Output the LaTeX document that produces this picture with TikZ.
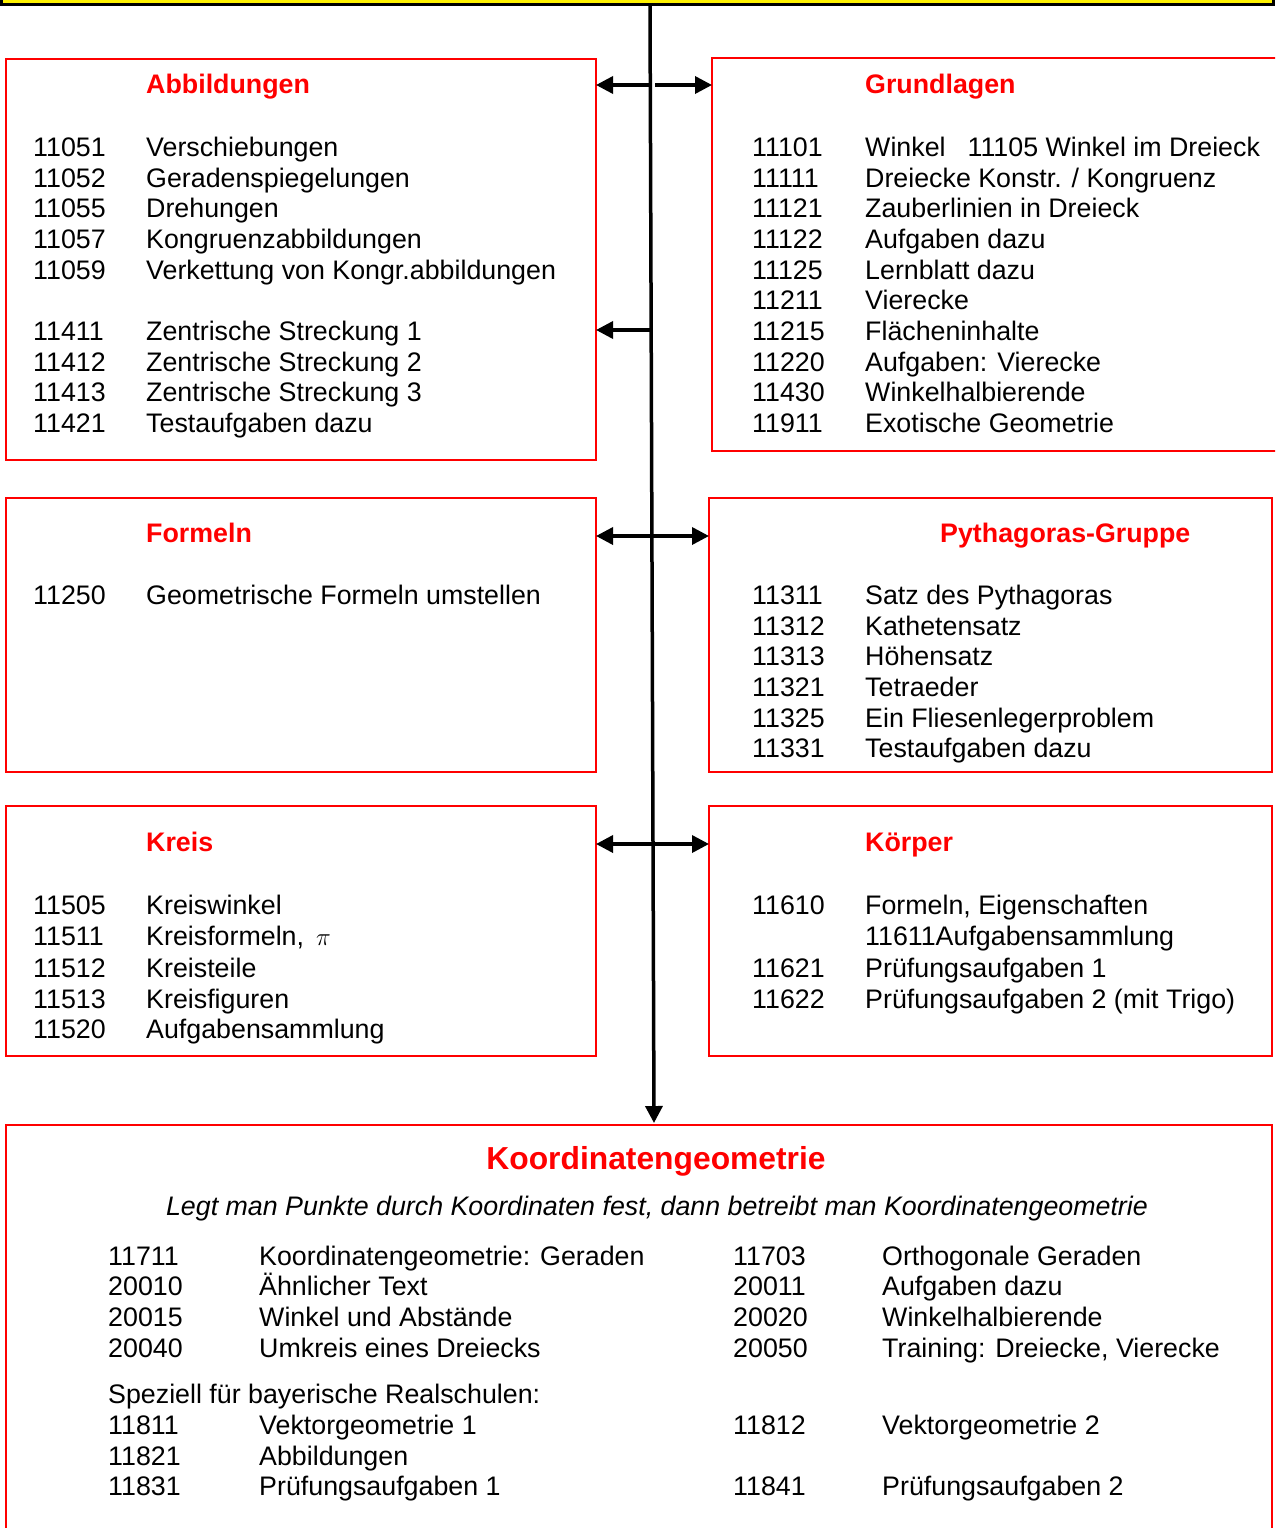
\documentclass[tikz,border=0pt]{standalone}
\usepackage{fontspec}
\setmainfont{Liberation Sans}
\usepackage{xcolor}
\usepackage{amsmath}
\usetikzlibrary{calc}
\usetikzlibrary{arrows.meta}

\tikzset{
  redbox/.style={draw=red, line width=2.5pt, inner sep=0pt, outer sep=0pt, anchor=north west},
  arr/.style={line width=3.5pt, -{Triangle[length=17pt,width=17pt]}},
  head/.style={anchor=base west, inner sep=0pt, text=red, font=\fontsize{26.8}{30}\selectfont\bfseries},
  num/.style={anchor=base west, inner sep=0pt, font=\fontsize{26.8}{30}\selectfont},
  txt/.style={anchor=base west, inner sep=0pt, font=\fontsize{26.8}{30}\selectfont}
}

\begin{document}
\begin{tikzpicture}[x=1pt,y=-1pt]
                        \clip (0,0) rectangle (1275,1528);
                        \fill[white] (0,0) rectangle (1275,1528);

                        % Yellow band on top
                        \draw [fill=yellow, line width=3pt] (1,-10) rectangle (1273,5);%

                        % Boxes
                        \node [redbox, minimum width=590pt, minimum height=401pt] (abb) at (6,59) {};%
                        \node [redbox, minimum width=600pt, minimum height=393pt] (grd) at (712,58) {};%
                        \node [redbox, minimum width=590pt, minimum height=274pt] (frm) at (6,498) {};%
                        \node [redbox, minimum width=563pt, minimum height=274pt] (pyt) at (709,498) {};%
                        \node [redbox, minimum width=590pt, minimum height=250pt] (krs) at (6,806) {};%
                        \node [redbox, minimum width=563pt, minimum height=250pt] (kpr) at (709,806) {};%
                        \node [redbox, minimum width=1266pt, minimum height=420pt] (kog) at (6,1125) {};%

                        % Drawing the spine
                        \coordinate (sTop) at (650,6);%
                        \coordinate (sBot) at (654,1123);%
                        \draw [arr] (sTop) -- (sBot);%

                        % Arrows from the spine
                        \coordinate (s1) at (650.3,85);%
                        \coordinate (s2) at (651.2,330);%
                        \coordinate (s3) at (651.9,536);%
                        \coordinate (s4) at (653,844);%
                        \draw [arr] (s1) -- (s1 -| abb.east);%
                        \draw [arr] ($(s1)+(5,0)$) -- (s1 -| grd.west);%
                        \draw [arr] (s2) -- (s2 -| abb.east);%
                        \draw [arr] (s3) -- (s3 -| frm.east);%
                        \draw [arr] (s3) -- (s3 -| pyt.west);%
                        \draw [arr] (s4) -- (s4 -| krs.east);%
                        \draw [arr] (s4) -- (s4 -| kpr.west);%

                        % Abbildungen
                        \node [head] (abbH) at (146,93) {Abbildungen};%
                        \node [num] (abb1n) at (33,156.5) {11051};  \node [txt] (abb1t) at (146,156.5) {Verschiebungen};%
                        \node [num] (abb2n) at (33,187)   {11052};  \node [txt] (abb2t) at (146,187)   {Geradenspiegelungen};%
                        \node [num] (abb3n) at (33,217.5) {11055};  \node [txt] (abb3t) at (146,217.5) {Drehungen};%
                        \node [num] (abb4n) at (33,248)   {11057};  \node [txt] (abb4t) at (146,248)   {Kongruenzabbildungen};%
                        \node [num] (abb5n) at (33,279)   {11059};  \node [txt] (abb5t) at (146,279)   {Verkettung von Kongr.abbildungen};%
                        \node [num] (abb6n) at (33,340)   {11411};  \node [txt] (abb6t) at (146,340)   {Zentrische Streckung 1};%
                        \node [num] (abb7n) at (33,371)   {11412};  \node [txt] (abb7t) at (146,371)   {Zentrische Streckung 2};%
                        \node [num] (abb8n) at (33,401.5) {11413};  \node [txt] (abb8t) at (146,401.5) {Zentrische Streckung 3};%
                        \node [num] (abb9n) at (33,432)   {11421};  \node [txt] (abb9t) at (146,432)   {Testaufgaben dazu};%

                        % Grundlagen
                        \node [head] (grdH) at (865,93) {Grundlagen};%
                        \node [num] (grd1n) at (752,156.5) {11101};  \node [txt] (grd1t) at (865,156.5) {Winkel\hspace{22pt}11105 Winkel im Dreieck};%
                        \node [num] (grd2n) at (752,187)   {11111};  \node [txt] (grd2t) at (865,187)   {Dreiecke Konstr. / Kongruenz};%
                        \node [num] (grd3n) at (752,217.5) {11121};  \node [txt] (grd3t) at (865,217.5) {Zauberlinien in Dreieck};%
                        \node [num] (grd4n) at (752,248)   {11122};  \node [txt] (grd4t) at (865,248)   {Aufgaben dazu};%
                        \node [num] (grd5n) at (752,279)   {11125};  \node [txt] (grd5t) at (865,279)   {Lernblatt dazu};%
                        \node [num] (grd6n) at (752,309.5) {11211};  \node [txt] (grd6t) at (865,309.5) {Vierecke};%
                        \node [num] (grd7n) at (752,340)   {11215};  \node [txt] (grd7t) at (865,340)   {Flächeninhalte};%
                        \node [num] (grd8n) at (752,371)   {11220};  \node [txt] (grd8t) at (865,371)   {Aufgaben: Vierecke};%
                        \node [num] (grd9n) at (752,401.5) {11430};  \node [txt] (grd9t) at (865,401.5) {Winkelhalbierende};%
                        \node [num] (grd10n) at (752,432)  {11911};  \node [txt] (grd10t) at (865,432)  {Exotische Geometrie};%

                        % Formeln
                        \node [head] (frmH) at (146,542) {Formeln};%
                        \node [num] (frm1n) at (33,604.5) {11250};  \node [txt] (frm1t) at (146,604.5) {Geometrische Formeln umstellen};%

                        % Pythagoras-Gruppe
                        \node [head] (pytH) at (940,542) {Pythagoras-Gruppe};%
                        \node [num] (pyt1n) at (752,604.5) {11311};  \node [txt] (pyt1t) at (865,604.5) {Satz des Pythagoras};%
                        \node [num] (pyt2n) at (752,635)   {11312};  \node [txt] (pyt2t) at (865,635)   {Kathetensatz};%
                        \node [num] (pyt3n) at (752,665.5) {11313};  \node [txt] (pyt3t) at (865,665.5) {Höhensatz};%
                        \node [num] (pyt4n) at (752,696)   {11321};  \node [txt] (pyt4t) at (865,696)   {Tetraeder};%
                        \node [num] (pyt5n) at (752,727)   {11325};  \node [txt] (pyt5t) at (865,727)   {Ein Fliesenlegerproblem};%
                        \node [num] (pyt6n) at (752,757.5) {11331};  \node [txt] (pyt6t) at (865,757.5) {Testaufgaben dazu};%

                        % Kreis
                        \node [head] (krsH) at (146,851) {Kreis};%
                        \node [num] (krs1n) at (33,914.5) {11505};  \node [txt] (krs1t) at (146,914.5) {Kreiswinkel};%
                        \node [num] (krs2n) at (33,945.5) {11511};  \node [txt] (krs2t) at (146,945.5) {Kreisformeln,\hspace{12pt}{\fontsize{27}{30}\selectfont$\pi$}};%
                        \node [num] (krs3n) at (33,977)   {11512};  \node [txt] (krs3t) at (146,977)   {Kreisteile};%
                        \node [num] (krs4n) at (33,1008)  {11513};  \node [txt] (krs4t) at (146,1008)  {Kreisfiguren};%
                        \node [num] (krs5n) at (33,1038.5) {11520}; \node [txt] (krs5t) at (146,1038.5) {Aufgabensammlung};%

                        % Koerper
                        \node [head] (kprH) at (865,851) {Körper};%
                        \node [num] (kpr1n) at (752,914.5) {11610};  \node [txt] (kpr1t) at (865,914.5) {Formeln, Eigenschaften};%
                        \node [txt] (kpr2t) at (865,945.5) {11611Aufgabensammlung};%
                        \node [num] (kpr3n) at (752,977)   {11621};  \node [txt] (kpr3t) at (865,977)   {Prüfungsaufgaben 1};%
                        \node [num] (kpr4n) at (752,1008)  {11622};  \node [txt] (kpr4t) at (865,1008)  {Prüfungsaufgaben 2 (mit Trigo)};%

                        % Koordinatengeometrie
                        \node [anchor=base, inner sep=0pt, text=red, font=\fontsize{31.8}{36}\selectfont\bfseries] (kogH) at (656,1169.5) {Koordinatengeometrie};%
                        \node [anchor=base, inner sep=0pt, font=\fontsize{26.8}{30}\selectfont\itshape] (kogI) at (657,1215.5) {Legt man Punkte durch Koordinaten fest, dann betreibt man Koordinatengeometrie};%
                        \node [num] (kog1n) at (108,1265.5) {11711};  \node [txt] (kog1t) at (259,1265.5) {Koordinatengeometrie: Geraden};%
                        \node [num] (kog2n) at (108,1295.5) {20010};  \node [txt] (kog2t) at (259,1295.5) {Ähnlicher Text};%
                        \node [num] (kog3n) at (108,1326.5) {20015};  \node [txt] (kog3t) at (259,1326.5) {Winkel und Abstände};%
                        \node [num] (kog4n) at (108,1357.5) {20040};  \node [txt] (kog4t) at (259,1357.5) {Umkreis eines Dreiecks};%
                        \node [num] (kog5n) at (733,1265.5) {11703};  \node [txt] (kog5t) at (882,1265.5) {Orthogonale Geraden};%
                        \node [num] (kog6n) at (733,1295.5) {20011};  \node [txt] (kog6t) at (882,1295.5) {Aufgaben dazu};%
                        \node [num] (kog7n) at (733,1326.5) {20020};  \node [txt] (kog7t) at (882,1326.5) {Winkelhalbierende};%
                        \node [num] (kog8n) at (733,1357.5) {20050};  \node [txt] (kog8t) at (882,1357.5) {Training: Dreiecke, Vierecke};%
                        \node [txt] (kogS) at (108,1403.5) {Speziell für bayerische Realschulen:};%
                        \node [num] (kog9n) at (108,1434.5)  {11811};  \node [txt] (kog9t) at (259,1434.5)  {Vektorgeometrie 1};%
                        \node [num] (kog10n) at (108,1465.5) {11821};  \node [txt] (kog10t) at (259,1465.5) {Abbildungen};%
                        \node [num] (kog11n) at (108,1495.5) {11831};  \node [txt] (kog11t) at (259,1495.5) {Prüfungsaufgaben 1};%
                        \node [num] (kog12n) at (733,1434.5) {11812};  \node [txt] (kog12t) at (882,1434.5) {Vektorgeometrie 2};%
                        \node [num] (kog13n) at (733,1495.5) {11841};  \node [txt] (kog13t) at (882,1495.5) {Prüfungsaufgaben 2};%
                    \end{tikzpicture}
\end{document}
